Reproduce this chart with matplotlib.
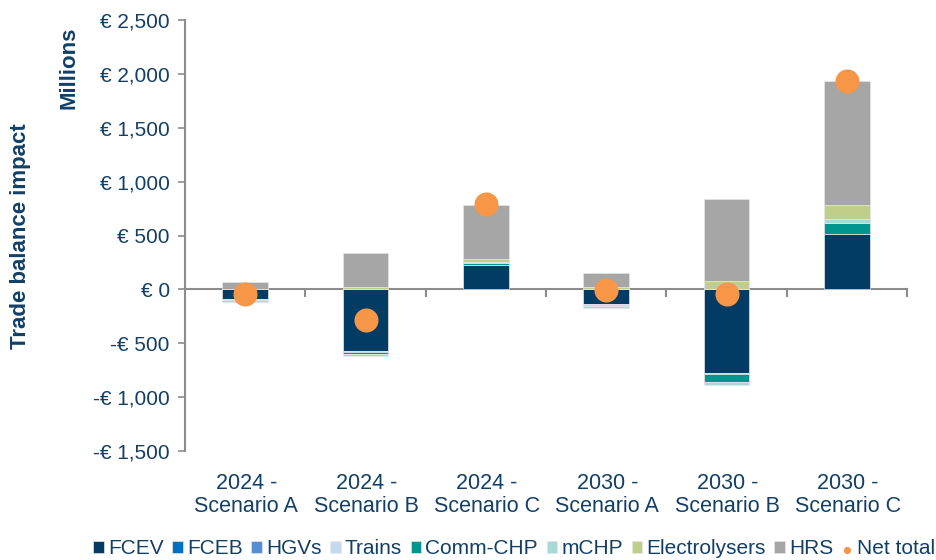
import matplotlib
matplotlib.use("Agg")
import matplotlib.pyplot as plt
import matplotlib.transforms as mtransforms
from matplotlib.ticker import FuncFormatter, FixedLocator
import numpy as np

plt.rcParams['font.family'] = ['Liberation Sans', 'DejaVu Sans']

categories = ["2024 -\nScenario A", "2024 -\nScenario B", "2024 -\nScenario C",
              "2030 -\nScenario A", "2030 -\nScenario B", "2030 -\nScenario C"]
FCEV = [-85, -575, 230, -140, -780, 510]
FCEB = [0, 0, 0, 0, 0, 0]
HGVs = [0, 0, 0, 0, 0, 0]
Trains = [-10, -5, 0, -10, -5, 0]
Comm_CHP = [-5, -20, 15, -5, -75, 105]
mCHP = [-15, -20, 5, -20, -30, 35]
Electrolysers = [5, 25, 35, 20, 75, 130]
HRS = [65, 315, 500, 135, 760, 1150]
Net_total = [-45, -280, 790, -10, -45, 1935]

series_names = ["FCEV", "FCEB", "HGVs", "Trains", "Comm-CHP", "mCHP", "Electrolysers", "HRS"]
series_vals = [FCEV, FCEB, HGVs, Trains, Comm_CHP, mCHP, Electrolysers, HRS]
colors = ["#023B63", "#0070C0", "#558ED5", "#C6D9F1", "#00968F", "#A9D9D7", "#BFCF8A", "#A6A6A6"]
net_color = "#F79646"
text_color = "#123F66"
axis_color = "#8C8C8C"

fig = plt.figure(figsize=(9.36, 5.6), dpi=100)
ax = fig.add_axes([185/936, 1-451/560, (907-185)/936, (451-20)/560])

x = np.arange(len(categories))
pos_base = np.zeros(len(categories))
neg_base = np.zeros(len(categories))
handles = []
for name, vals, col in zip(series_names, series_vals, colors):
    v = np.array(vals, dtype=float)
    bottoms = np.where(v >= 0, pos_base, neg_base)
    b = ax.bar(x, v, bottom=bottoms, width=0.38, color=col, label=name,
               edgecolor="#E6E6E6", linewidth=0.5, zorder=2)
    handles.append(b)
    pos_base = pos_base + np.where(v >= 0, v, 0)
    neg_base = neg_base + np.where(v < 0, v, 0)

sc = ax.scatter(x, Net_total, s=300, color=net_color, zorder=4, label="Net total", linewidths=0)
handles.append(sc)

ax.set_xlim(-0.5, len(categories) - 0.5)
ax.set_ylim(-1500, 2500)
ax.set_yticks(np.arange(-1500, 2501, 500))

def eur(v, pos):
    v = int(round(v))
    if v < 0:
        return "-€ {:,}".format(-v)
    return "€ {:,}".format(v)

ax.yaxis.set_major_formatter(FuncFormatter(eur))
ax.tick_params(axis='y', colors=axis_color, labelcolor=text_color, labelsize=15,
               direction='out', length=5, width=1.2, pad=6)

ax.spines['top'].set_visible(False)
ax.spines['right'].set_visible(False)
ax.spines['left'].set_color(axis_color)
ax.spines['left'].set_linewidth(1.5)
ax.spines['bottom'].set_position(('data', 0))
ax.spines['bottom'].set_color(axis_color)
ax.spines['bottom'].set_linewidth(1.5)
ax.spines['bottom'].set_zorder(1)

ax.xaxis.set_major_locator(FixedLocator(np.arange(0.5, len(categories), 1.0)))
ax.set_xticklabels([])
ax.tick_params(axis='x', colors=axis_color, direction='out', length=6, width=1.5)

trans = mtransforms.blended_transform_factory(ax.transData, ax.transAxes)
for xi, lab in zip(x, categories):
    ax.text(xi + 0.01, -0.05, lab, transform=trans, ha='center', va='top',
            color=text_color, fontsize=15.5, linespacing=1.15)

fig.text(21/936, 1-236/560, "Trade balance impact", rotation=90, ha='center', va='center',
         color=text_color, fontsize=16, fontweight='bold')
fig.text(69/936, 1-68/560, "Millions", rotation=90, ha='center', va='center',
         color=text_color, fontsize=16, fontweight='bold')

leg = fig.legend(handles=handles, labels=series_names + ["Net total"], loc='center',
                 bbox_to_anchor=(514/936, 1-549/560), ncol=9, frameon=False, fontsize=15,
                 handlelength=0.5, handleheight=0.5, handletextpad=0.2, columnspacing=0.42,
                 markerscale=0.3, borderpad=0)
for t in leg.get_texts():
    t.set_color(text_color)

fig.savefig("out.png", dpi=100)
